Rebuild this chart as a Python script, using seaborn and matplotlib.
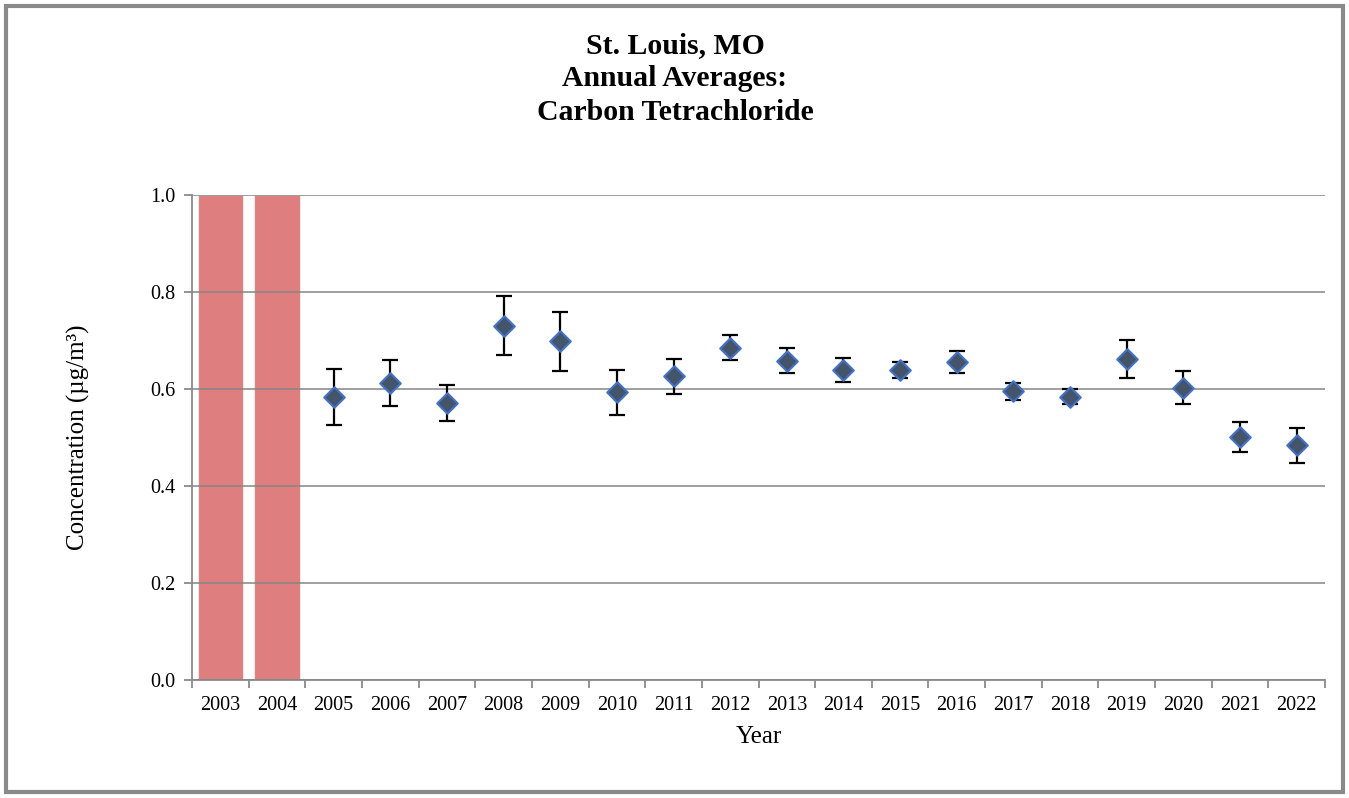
import numpy as np
import pandas as pd
import matplotlib
matplotlib.use("Agg")
import matplotlib.pyplot as plt
from matplotlib.patches import Rectangle
import seaborn as sns

# data
years = [str(y) for y in range(2003, 2023)]
no_data_years = ["2003", "2004"]  # shaded bars = not sampled
no_data_height = [1.0, 1.0]
avg_years = [str(y) for y in range(2005, 2023)]
avg_conc = [0.584, 0.613, 0.571, 0.730, 0.699, 0.594, 0.626, 0.685, 0.658,
            0.639, 0.639, 0.656, 0.595, 0.584, 0.662, 0.603, 0.502, 0.484]
ci_low = [0.526, 0.565, 0.533, 0.670, 0.638, 0.546, 0.590, 0.659, 0.632,
          0.615, 0.623, 0.633, 0.578, 0.569, 0.623, 0.570, 0.470, 0.447]
ci_high = [0.642, 0.660, 0.608, 0.791, 0.759, 0.639, 0.662, 0.711, 0.684,
           0.663, 0.656, 0.679, 0.612, 0.601, 0.701, 0.638, 0.532, 0.520]

sns.set_style("white")
plt.rcParams["font.family"] = ["Liberation Serif", "DejaVu Serif"]
plt.rcParams["text.color"] = "black"
plt.rcParams["axes.labelcolor"] = "black"
plt.rcParams["xtick.labelcolor"] = "black"
plt.rcParams["ytick.labelcolor"] = "black"

GRAY = "#8a8a8a"

fig = plt.figure(figsize=(13.49, 7.98), dpi=100)
ax = fig.add_axes([192 / 1349, 1 - 680 / 798, (1325 - 192) / 1349, (680 - 195) / 798])

bars = pd.DataFrame({"year": no_data_years, "height": no_data_height})
sns.barplot(data=bars, x="year", y="height", order=years, ax=ax,
            color=(200 / 255, 40 / 255, 40 / 255), saturation=1, alpha=0.6,
            width=0.8, edgecolor="white", linewidth=0.8)

pos = np.array([years.index(y) for y in avg_years])
avg = np.array(avg_conc)
yerr = np.vstack([avg - np.array(ci_low), np.array(ci_high) - avg])
ax.errorbar(pos, avg, yerr=yerr, fmt="none", ecolor="black", elinewidth=1.6,
            capsize=5.5, capthick=1.6, zorder=4)
pts = pd.DataFrame({"x": pos, "y": avg})
sns.scatterplot(data=pts, x="x", y="y", marker="D", s=110, color="#44546A",
                edgecolor="#4472C4", linewidth=1.5, ax=ax, zorder=5)

ax.set_xlim(-0.5, len(years) - 0.5)
ax.set_ylim(0, 1.0)
ax.set_yticks(np.arange(0, 1.01, 0.2))
ax.set_yticklabels([f"{v:.1f}" for v in np.arange(0, 1.01, 0.2)])
ax.set_xticks(range(len(years)))
ax.set_xticklabels(years)
ax.set_xticks(np.arange(-0.5, len(years), 1.0), minor=True)

# grid drawn above the shaded bars, below the markers
ax.set_axisbelow(False)
ax.yaxis.grid(True, color="#858585", linewidth=1.3, alpha=0.85)
for side in ["top", "right"]:
    ax.spines[side].set_visible(False)
for side in ["left", "bottom"]:
    ax.spines[side].set_color(GRAY)
    ax.spines[side].set_linewidth(1.3)

ax.tick_params(axis="y", which="major", left=True, length=6, width=1.3,
               color=GRAY, labelsize=14.5, pad=6)
ax.tick_params(axis="x", which="major", bottom=False, labelsize=14.5, pad=8)
ax.tick_params(axis="x", which="minor", bottom=True, length=6, width=1.3,
               color=GRAY)

ax.set_xlabel("Year", fontsize=18, labelpad=8)
ax.set_ylabel("Concentration (µg/m³)", fontsize=18, labelpad=43)

fig.text(675 / 1349, 1 - 79 / 798,
         "St. Louis, MO\nAnnual Averages:\nCarbon Tetrachloride",
         ha="center", va="center", fontsize=21.4, fontweight="bold",
         linespacing=1.3)

fig.patches.append(Rectangle((6 / 1349, 6 / 798), 1337 / 1349, 786 / 798,
                             transform=fig.transFigure, fill=False,
                             edgecolor=GRAY, linewidth=3))

fig.savefig("out.png", dpi=100)
